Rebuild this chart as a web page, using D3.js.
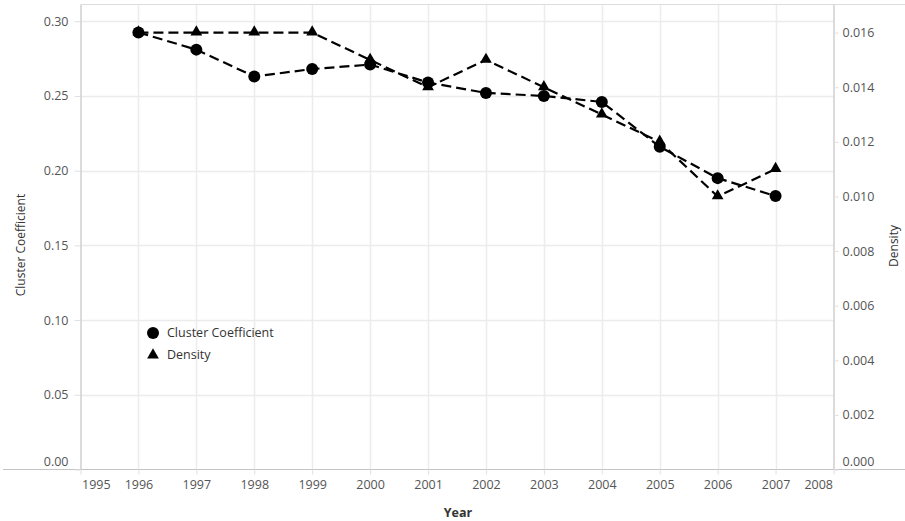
<!DOCTYPE html>
<html>
<head>
<meta charset="utf-8">
<script src="https://cdn.jsdelivr.net/npm/d3@7"></script>
<style>
  html, body { margin: 0; padding: 0; background: #fff; }
  svg { display: block; font-family: "Open Sans", Lato, sans-serif; }
</style>
</head>
<body>
<svg id="chart" width="905" height="521"></svg>
<script>
// ---- data ----
const years = [1996, 1997, 1998, 1999, 2000, 2001, 2002, 2003, 2004, 2005, 2006, 2007];
const clusterCoefficient = [0.2925, 0.281, 0.263, 0.268, 0.271, 0.259, 0.252, 0.250, 0.246, 0.216, 0.195, 0.183];
const density = [0.016, 0.016, 0.016, 0.016, 0.015, 0.014, 0.015, 0.014, 0.013, 0.012, 0.010, 0.011];
const xTickYears = [1995, 1996, 1997, 1998, 1999, 2000, 2001, 2002, 2003, 2004, 2005, 2006, 2007, 2008];
const leftTicks = [0, 0.05, 0.10, 0.15, 0.20, 0.25, 0.30];
const rightTicks = [0, 0.002, 0.004, 0.006, 0.008, 0.010, 0.012, 0.014, 0.016];
const seriesNames = ["Cluster Coefficient", "Density"];

// ---- layout ----
const svg = d3.select("#chart");
const L = 80.5, R = 833.5, T = 4.5, B = 469.5;
const axisColor = "#c4c4c4", gridColor = "#ececec", textColor = "#555";
const FONT = "'Open Sans', Lato, sans-serif";

const x = d3.scaleLinear().domain([1995, 2008]).range([L, R]);
const yL = d3.scaleLinear().domain([0, 0.3112]).range([B, T]);
const yR = d3.scaleLinear().domain([0, 0.01703]).range([B, T]);

// gridlines
svg.append("g").selectAll("line.h").data(leftTicks.filter(d => d > 0)).join("line")
  .attr("x1", L).attr("x2", R)
  .attr("y1", d => Math.round(yL(d)) + 0.5).attr("y2", d => Math.round(yL(d)) + 0.5)
  .attr("stroke", gridColor).attr("stroke-width", 1.5);
svg.append("g").selectAll("line.v").data(years).join("line")
  .attr("x1", d => Math.round(x(d)) + 0.5).attr("x2", d => Math.round(x(d)) + 0.5)
  .attr("y1", T).attr("y2", B)
  .attr("stroke", gridColor).attr("stroke-width", 1.5);

// frame lines
svg.append("line").attr("x1", L).attr("x2", 905).attr("y1", T).attr("y2", T).attr("stroke", "#dcdcdc");
svg.append("line").attr("x1", 3).attr("x2", 905).attr("y1", B).attr("y2", B).attr("stroke", axisColor).attr("stroke-width", 1.2);

function styleAxis(g) {
  g.select(".domain").attr("stroke", axisColor).attr("stroke-width", 1.2);
  g.selectAll(".tick line").attr("stroke", "#e0e0e0");
  g.selectAll(".tick text").attr("fill", textColor).attr("font-size", 12.5)
    .attr("font-family", FONT);
}

// left axis
const gL = svg.append("g").attr("transform", `translate(${L},0)`)
  .call(d3.axisLeft(yL).tickValues(leftTicks).tickFormat(d3.format(".2f")).tickSize(6).tickPadding(6).tickSizeOuter(0));
styleAxis(gL);
gL.selectAll(".tick").filter(d => d === 0).select("text").attr("dy", "-0.35em");

// right axis
const gR = svg.append("g").attr("transform", `translate(${R},0)`)
  .call(d3.axisRight(yR).tickValues(rightTicks).tickFormat(d3.format(".3f")).tickSize(5).tickPadding(4).tickSizeOuter(0));
styleAxis(gR);
gR.selectAll(".tick").filter(d => d === 0).select("text").attr("dy", "-0.35em");

// bottom axis
const gB = svg.append("g").attr("transform", `translate(0,${B})`)
  .call(d3.axisBottom(x).tickValues(xTickYears).tickFormat(d3.format("d")).tickSize(5).tickPadding(6).tickSizeOuter(0));
styleAxis(gB);
gB.select(".domain").remove();
gB.selectAll(".tick").filter(d => d === 1995).select("text").attr("text-anchor", "start").attr("dx", 1);
gB.selectAll(".tick").filter(d => d === 2008).select("text").attr("text-anchor", "end").attr("dx", -1);

// axis titles
svg.append("text").attr("transform", `translate(25,245) rotate(-90)`)
  .attr("text-anchor", "middle").attr("fill", "#333").attr("font-size", 12).text("Cluster Coefficient");
svg.append("text").attr("transform", `translate(898,246) rotate(-90)`)
  .attr("text-anchor", "middle").attr("fill", "#333").attr("font-size", 12).text("Density");
svg.append("text").attr("x", 458).attr("y", 517)
  .attr("text-anchor", "middle").attr("fill", "#333").attr("font-size", 12.5).attr("font-weight", "bold").text("Year");

// lines
const ccData = years.map((yr, i) => ({ yr, v: clusterCoefficient[i] }));
const dnData = years.map((yr, i) => ({ yr, v: density[i] }));

svg.append("path").datum(ccData)
  .attr("d", d3.line().x(d => x(d.yr)).y(d => yL(d.v)))
  .attr("fill", "none").attr("stroke", "#000").attr("stroke-width", 2.2).attr("stroke-dasharray", "10,5");
svg.append("path").datum(dnData)
  .attr("d", d3.line().x(d => x(d.yr)).y(d => yR(d.v)))
  .attr("fill", "none").attr("stroke", "#000").attr("stroke-width", 2.2).attr("stroke-dasharray", "10,5");

// markers
svg.append("g").selectAll("circle").data(ccData).join("circle")
  .attr("cx", d => x(d.yr)).attr("cy", d => yL(d.v)).attr("r", 6).attr("fill", "#000");
const tri = d3.symbol().type(d3.symbolTriangle).size(60);
svg.append("g").selectAll("path").data(dnData).join("path")
  .attr("transform", d => `translate(${x(d.yr)},${yR(d.v) - 0.5})`)
  .attr("d", tri).attr("fill", "#000");

// legend
const lg = svg.append("g").attr("transform", "translate(153,333)");
lg.append("circle").attr("cx", 0).attr("cy", 0).attr("r", 6).attr("fill", "#000");
lg.append("path").attr("transform", "translate(0,22)").attr("d", tri).attr("fill", "#000");
lg.selectAll("text").data(seriesNames).join("text")
  .attr("x", 14).attr("y", (d, i) => i * 22).attr("dy", "0.35em")
  .attr("fill", "#333").attr("font-size", 12.5).attr("font-family", FONT).text(d => d);
</script>
</body>
</html>
